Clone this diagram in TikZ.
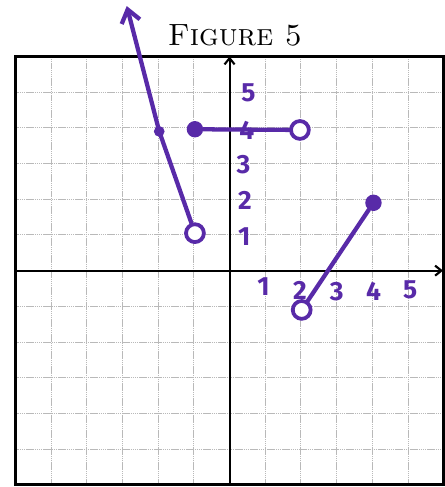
\documentclass[tikz,border=0pt]{standalone}
\usepackage{fontspec}
\newfontfamily\handfont{Fira Sans}
\usetikzlibrary{arrows.meta}
\definecolor{ink}{RGB}{88,42,168}
\begin{document}
\begin{tikzpicture}[x=1cm,y=1cm,
  gridline/.style={gray!55, line width=0.8pt, dash pattern=on 1.2pt off 0.5pt},
  frame/.style={black, line width=2.6pt},
  axis/.style={black, line width=1.7pt, -{Straight Barb[length=5pt,width=8pt]}},
  pen/.style={ink, line width=3.4pt, line cap=round},
  opendot/.style={circle, draw=ink, line width=3pt, fill=white, minimum size=0.5cm, inner sep=0pt},
  filldot/.style={circle, fill=ink, minimum size=0.46cm, inner sep=0pt},
  smalldot/.style={circle, fill=ink, minimum size=0.3cm, inner sep=0pt},
  digit/.style={text=ink, font=\handfont\bfseries\fontsize{21}{24}\selectfont, inner sep=0pt},
  title/.style={font=\fontsize{24.5}{28}\selectfont, inner sep=0pt}]
\useasboundingbox (-6.43,-6.06) rectangle (6.01,7.58);
\draw[gridline] (-6,-6) grid (6,6);
\draw[frame] (-6,-6) rectangle (6,6);
% axes
\coordinate (xl) at (-6,0);
\coordinate (xr) at (5.98,0);
\coordinate (yb) at (0,-6);
\coordinate (yt) at (0,6);
\draw[axis] (xl) -- (xr);
\draw[axis] (yb) -- (yt);
% title
\node[title] (ttl) at (0.15,6.6) {\textsc{Figure 5}};
% axis numbers
\node[digit] (y5) at (0.53,4.97) {5};
\node[digit] (y3) at (0.39,2.96) {3};
\node[digit] (y2) at (0.43,1.98) {2};
\node[digit] (y1) at (0.41,0.95) {1};
\node[digit] (x1) at (0.95,-0.45) {1};
\node[digit] (x2) at (1.97,-0.54) {2};
\node[digit] (x3) at (3.0,-0.59) {3};
\node[digit] (x4) at (4.03,-0.59) {4};
\node[digit] (x5) at (5.06,-0.54) {5};
% ray piece
\node[opendot] (a1) at (-0.97,1.05) {};
\coordinate (a2) at (-1.97,3.9);
\coordinate (a3) at (-2.88,7.41);
\draw[pen, -{Straight Barb[length=10pt,width=15pt]}] (a1) -- (a2) -- (a3);
\node[smalldot] (ad) at (a2) {};
% horizontal piece
\node[filldot] (b1) at (-0.97,3.96) {};
\node[opendot] (b2) at (1.97,3.94) {};
\draw[pen] (b1) -- (b2);
\node[digit] (y4) at (0.48,3.94) {4};
% rising piece
\node[opendot] (c1) at (2.02,-1.1) {};
\node[filldot] (c2) at (4.03,1.9) {};
\draw[pen] (c1) -- (c2);
\end{tikzpicture}
\end{document}
